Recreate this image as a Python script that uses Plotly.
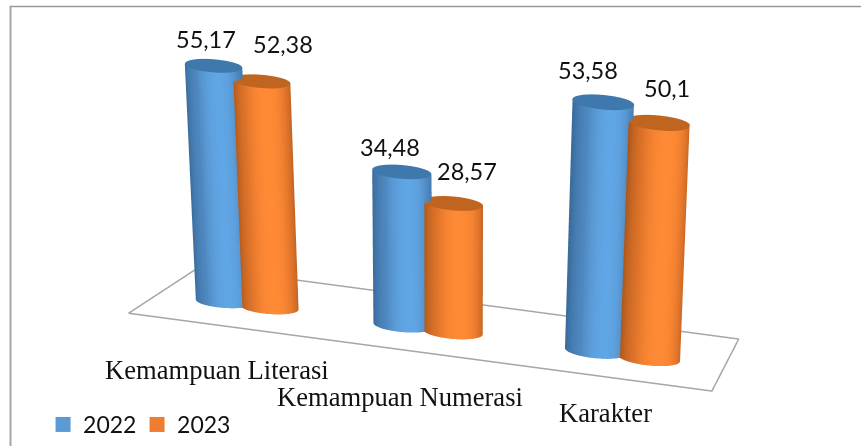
import numpy as np
import plotly.graph_objects as go

categories = ["Kemampuan Literasi", "Kemampuan Numerasi", "Karakter"]
series_names = ["2022", "2023"]
values_2022 = [55.17, 34.48, 53.58]
values_2023 = [52.38, 28.57, 50.1]
value_labels_2022 = ["55,17", "34,48", "53,58"]
value_labels_2023 = ["52,38", "28,57", "50,1"]

BLUE = [[0, "#3A6C9C"], [0.7, "#4F88C0"], [1, "#60A6E4"]]
ORANGE = [[0, "#A8551A"], [0.7, "#DF742A"], [1, "#FF8A35"]]
TOP = {"2022": "#3F78AC", "2023": "#C0651F"}
LEG = {"2022": "#5B9BD5", "2023": "#ED7D31"}
LIGHT = dict(ambient=1, diffuse=0, specular=0, roughness=1, fresnel=0)

GROUP_X = [0.465, 1.427, 2.461]
GROUP_SEP = [0.24, 0.265, 0.284]
BAR_Y = 0.44
R0, RY = 0.15, 0.85
XC = 1.5


def warp(x, y, z):
    """Mild perspective: back narrows, tall things fan out and grow toward the near side."""
    x, y, z = np.asarray(x, float), np.asarray(y, float), np.asarray(z, float)
    depth = 1 - 0.075 * y
    xo = XC + (x - XC) * depth * (1 + 0.055 * z / 60)
    zo = z * (1 + 0.047 * (x - XC))
    return xo, y, zo


traces = []


def cylinder(cx, cy, h, scale, topcol):
    m = 1 + 0.047 * (cx - XC)
    r = R0 * m
    th = np.linspace(0, 2 * np.pi, 121)
    T, Zf = np.meshgrid(th, np.array([0.0, 1.0]))
    X = cx + r * np.cos(T)
    Y = cy + r * RY * np.sin(T)
    Z = Zf * h
    xo, yo, _ = warp(np.full_like(X, cx), Y, Z)
    zo = Z * (1 + 0.047 * (cx - XC))
    xo = xo + (X - cx)
    shade = np.clip(np.cos(T - np.radians(-65)), 0, 1)
    traces.append(go.Surface(x=xo, y=yo, z=zo, surfacecolor=shade, cmin=0, cmax=1,
                             colorscale=scale, showscale=False, lighting=LIGHT,
                             hoverinfo="skip", showlegend=False))
    T2, RR = np.meshgrid(th, np.array([0.0, 1.0]))
    topx = xo[1, 0] - (X[1, 0] - cx) + r * RR * np.cos(T2)
    topy = cy + r * RY * RR * np.sin(T2)
    traces.append(go.Surface(x=topx, y=topy, z=np.full_like(T2, zo[1, 0]), surfacecolor=np.zeros_like(T2),
                             cmin=0, cmax=1, colorscale=[[0, topcol], [1, topcol]], showscale=False,
                             lighting=LIGHT, hoverinfo="skip", showlegend=False))


for i in range(3):
    cx = GROUP_X[i]
    s = GROUP_SEP[i]
    cylinder(cx - s / 2, BAR_Y, values_2022[i], BLUE, TOP["2022"])
    cylinder(cx + s / 2, BAR_Y, values_2023[i], ORANGE, TOP["2023"])

fx, fy, fz = warp([0, 3, 3, 0, 0], [0, 0, 1, 1, 0], [0] * 5)
traces.append(go.Scatter3d(x=fx, y=fy, z=fz, mode="lines",
                           line=dict(color="#A6A6A6", width=3), hoverinfo="skip", showlegend=False))

for n in series_names:
    traces.append(go.Scatter3d(x=[None], y=[None], z=[None], mode="markers", name=n,
                               marker=dict(symbol="square", size=15, color=LEG[n])))

fig = go.Figure(traces)

# orthographic view
a, p = np.radians(20), np.radians(21.5)
D = 2.2
d = np.array([np.sin(a) * np.cos(p), -np.cos(a) * np.cos(p), np.sin(p)])
c = np.array([-0.06, -0.02, -0.254])
eye = c + D * d

ax = dict(visible=False, showspikes=False)

W, H = 861, 446
annots = []
lab_xy = [(206, 39), (390, 147), (588, 70), (283, 44), (467, 171), (667, 88)]
for (x, y), t in zip(lab_xy, value_labels_2022 + value_labels_2023):
    annots.append(dict(xref="paper", yref="paper", x=x / W, y=1 - y / H, text=t, showarrow=False,
                       xanchor="center", yanchor="middle",
                       font=dict(family="Lato", size=23.5, color="#111111")))
cat_xy = [(217, 370), (400, 397), (605, 413)]
for (x, y), t in zip(cat_xy, categories):
    annots.append(dict(xref="paper", yref="paper", x=x / W, y=1 - y / H, text=t, showarrow=False,
                       xanchor="center", yanchor="middle",
                       font=dict(family="Liberation Serif", size=26.6, color="#111111")))

fig.update_layout(
    width=W, height=H, margin=dict(l=0, r=0, t=0, b=0), paper_bgcolor="white",
    scene=dict(
        domain=dict(x=[0, 1], y=[0, 1]),
        xaxis=dict(range=[-0.3, 3.3], **ax), yaxis=dict(range=[-0.2, 1.2], **ax), zaxis=dict(range=[0, 70], **ax),
        aspectmode="manual", aspectratio=dict(x=3.34, y=0.895, z=1.515),
        camera=dict(eye=dict(x=eye[0], y=eye[1], z=eye[2]), center=dict(x=c[0], y=c[1], z=c[2]),
                    up=dict(x=0, y=0, z=1), projection=dict(type="orthographic")),
    ),
    legend=dict(orientation="h", x=0.05, y=0.0, xanchor="left", yanchor="bottom",
                entrywidth=49, entrywidthmode="pixels",
                font=dict(family="Lato", size=23, color="#111111"), bgcolor="rgba(0,0,0,0)"),
    annotations=annots,
    shapes=[dict(type="line", xref="paper", yref="paper", x0=10.5 / W, x1=10.5 / W, y0=0, y1=1 - 6 / H,
                 line=dict(color="#A6A6A6", width=2)),
            dict(type="line", xref="paper", yref="paper", x0=10 / W, x1=1, y0=1 - 6.5 / H, y1=1 - 6.5 / H,
                 line=dict(color="#999999", width=1.5))],
)
fig.write_html("out.html", config=dict(displayModeBar=False),
               post_script="document.body.style.margin='0';document.documentElement.style.overflow='hidden';")
